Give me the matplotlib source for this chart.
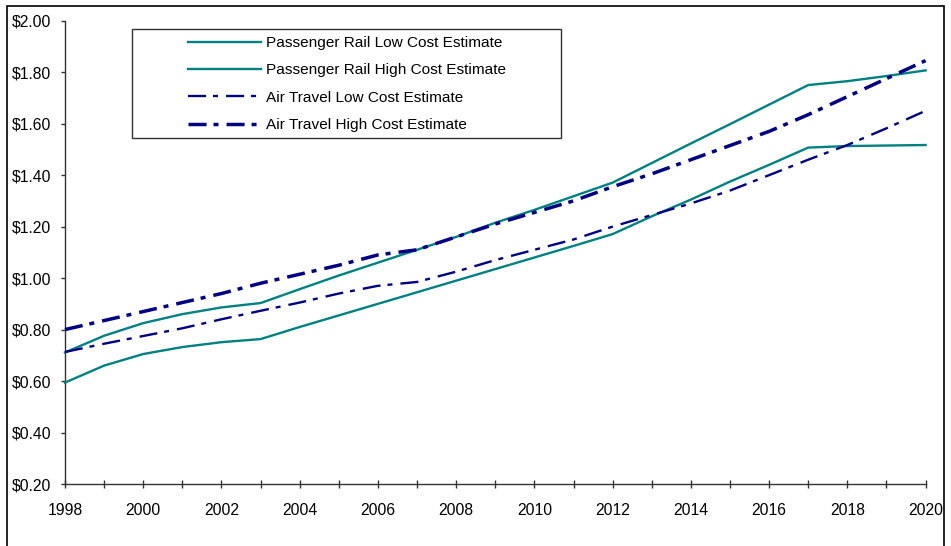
import matplotlib
matplotlib.use("Agg")
import matplotlib.pyplot as plt
from matplotlib.patches import Rectangle
from matplotlib.ticker import FuncFormatter, MultipleLocator

plt.rcParams['font.family'] = ['Liberation Sans', 'DejaVu Sans']
plt.rcParams['lines.scale_dashes'] = False

years = list(range(1998, 2021))
rail_low = [0.594, 0.66, 0.705, 0.732, 0.751, 0.763, 0.81, 0.855, 0.90, 0.945, 0.99,
            1.035, 1.08, 1.125, 1.171, 1.24, 1.305, 1.375, 1.44, 1.507, 1.513, 1.515, 1.517]
rail_high = [0.711, 0.776, 0.825, 0.86, 0.886, 0.903, 0.957, 1.01, 1.06, 1.11, 1.16,
             1.215, 1.265, 1.318, 1.371, 1.447, 1.523, 1.598, 1.674, 1.75, 1.765, 1.785, 1.807]
air_low = [0.713, 0.745, 0.775, 0.805, 0.84, 0.873, 0.905, 0.94, 0.97, 0.985, 1.025,
           1.07, 1.11, 1.15, 1.20, 1.245, 1.29, 1.34, 1.40, 1.46, 1.517, 1.582, 1.65]
air_high = [0.80, 0.835, 0.87, 0.905, 0.94, 0.98, 1.015, 1.05, 1.09, 1.11, 1.16,
            1.21, 1.255, 1.30, 1.355, 1.405, 1.46, 1.515, 1.57, 1.635, 1.705, 1.775, 1.845]
labels = ["Passenger Rail Low Cost Estimate", "Passenger Rail High Cost Estimate",
          "Air Travel Low Cost Estimate", "Air Travel High Cost Estimate"]

W, H = 951, 546
fig = plt.figure(figsize=(W / 100, H / 100), dpi=100)
ax = fig.add_axes([65 / W, 1 - 484 / H, (925.6 - 65) / W, (484 - 20.7) / H])

teal = '#008080'
navy = '#000080'
ax.plot(years, rail_low, color=teal, lw=1.7, label=labels[0], clip_on=False, zorder=3)
ax.plot(years, rail_high, color=teal, lw=1.7, label=labels[1], clip_on=False, zorder=3)
ax.plot(years, air_low, color=navy, lw=1.7, dashes=(13, 5, 3.6, 5.8),
        label=labels[2], clip_on=False, zorder=3)
ax.plot(years, air_high, color=navy, lw=2.5, dashes=(13, 5, 3.6, 5.8),
        label=labels[3], clip_on=False, zorder=3)

ax.set_xlim(1998, 2020)
ax.set_ylim(0.2, 2.0)
ax.xaxis.set_major_locator(MultipleLocator(2))
ax.xaxis.set_minor_locator(MultipleLocator(1))
ax.yaxis.set_major_locator(MultipleLocator(0.2))
ax.yaxis.set_major_formatter(FuncFormatter(lambda v, p: f"${v:.2f}"))

for s in ['top', 'right']:
    ax.spines[s].set_visible(False)
for s in ['left', 'bottom']:
    ax.spines[s].set_color('#333333')
    ax.spines[s].set_linewidth(1.0)

ax.tick_params(axis='y', direction='out', length=3, width=1.0, color='#333333',
               labelsize=11.3, pad=7)
ax.tick_params(axis='x', which='both', direction='inout', length=6, width=1.0,
               color='#333333', labelsize=11.3, pad=11)

leg = ax.legend(loc='upper left', bbox_to_anchor=(188 / W, 1 - 36 / H),
                bbox_transform=fig.transFigure, frameon=False, borderpad=0,
                borderaxespad=0, handlelength=4.75, handletextpad=0.33,
                labelspacing=0.87, fontsize=11.1)

fig.add_artist(Rectangle((132 / W, 1 - 138 / H), (561 - 132) / W, (138 - 29) / H,
                         transform=fig.transFigure, fill=False, edgecolor='#333333',
                         lw=1.0))
fig.add_artist(Rectangle((7 / W, -0.2), (944 - 7) / W, 1.2 - 6 / H,
                         transform=fig.transFigure, fill=False, edgecolor='black',
                         lw=1.2))

fig.savefig("out.png", dpi=100)
